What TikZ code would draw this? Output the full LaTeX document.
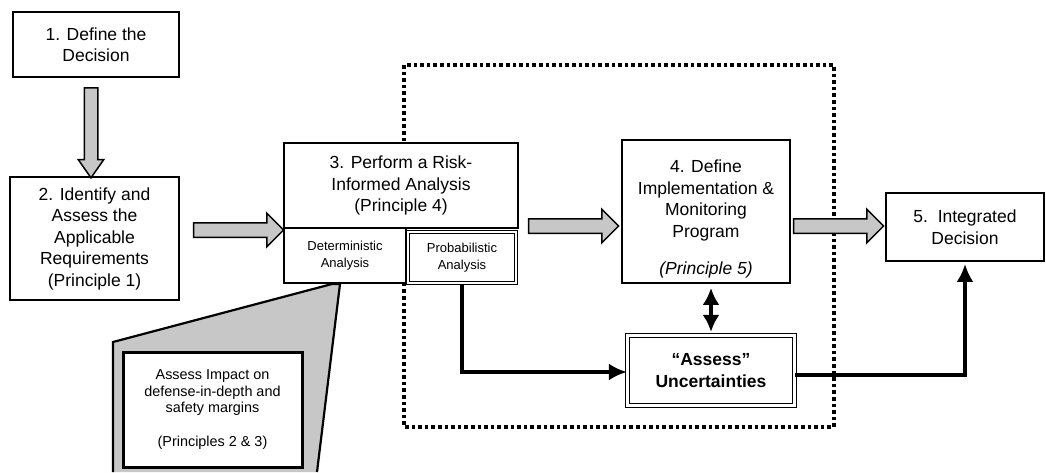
\documentclass[tikz,border=0pt]{standalone}
\usepackage{fontspec}
\setmainfont{Liberation Sans}
\usepackage{tikz}
\usetikzlibrary{shapes, arrows, arrows.meta, positioning}
\definecolor{stipple}{rgb}{0.78,0.78,0.78}
\tikzstyle{box}  = [draw, fill=white, line width=1.8pt, align=center, inner sep=0pt, font=\fontsize{17.5}{21.5}\selectfont]
\tikzstyle{cell} = [box, font=\fontsize{13}{17}\selectfont]
\tikzstyle{dbl}  = [double, double distance=2.5pt, line width=1.2pt]
\tikzstyle{fat}  = [draw, single arrow, fill=stipple, line width=1.5pt, inner xsep=0pt, inner ysep=6.5pt, single arrow head extend=9.5pt, minimum height=90pt]
\tikzstyle{flow} = [draw, line width=3.8pt, -{Latex[length=18pt, width=17pt]}]

\begin{document}
\begin{tikzpicture}[x=1pt, y=-1pt]
\useasboundingbox (0,0) rectangle (1046,472);

% dotted frame round steps 4 and uncertainties
\draw [line width=3.6pt, dash pattern=on 3.6pt off 3pt] (404,65) rectangle (834,427);

% callout
\fill [stipple] (113,342) -- (332,284) -- (340,284) -- (317,472) -- (113,472) -- cycle;
\draw [line width=2.2pt] (113,472) -- (113,342) -- (332,284) -- (340,284) -- (317,472);

% nodes
\node [box, minimum width=166pt, minimum height=65pt]  at ( 96  ,  44.5) (def)  {1. Define the\\Decision};
\node [box, minimum width=169pt, minimum height=123pt] at ( 94.5, 238.5) (req)  {2. Identify and\\Assess the\\Applicable\\Requirements\\(Principle 1)};
\node [box, minimum width=234pt, minimum height=85pt]  at (401  , 185.5) (risk) {3. Perform a Risk-\\Informed Analysis\\(Principle 4)};
\node [cell, minimum width=122pt, minimum height=55pt] at (345  , 255.5) (det)  {Deterministic\\Analysis};
\node [cell, dbl, minimum width=108pt, minimum height=51pt] at (462, 257.5) (prob) {Probabilistic\\Analysis};
\node [box, minimum width=168pt, minimum height=143pt] at (706  , 211.5) (plan) {\rule{0pt}{28pt}4. Define\\Implementation \&\\Monitoring\\Program\\[16pt]\textit{(Principle 5)}};
\node [box, minimum width=158pt, minimum height=68pt]  at (965  , 227  ) (dec)  {5.\ \ Integrated\\Decision};
\node [box, dbl, minimum width=167pt, minimum height=70pt, font=\fontsize{17.5}{21.5}\selectfont\bfseries] at (711, 370.5) (unc) {“Assess”\\Uncertainties};
\node [box, line width=3pt, minimum width=179pt, minimum height=115pt, font=\fontsize{14.4}{16.7}\selectfont] at (212.5, 409.5) (impact) {Assess Impact on\\defense-in-depth and\\safety margins\\[16.7pt](Principles 2 \& 3)};

% block arrows
\node [fat, rotate=-90, inner ysep=6pt, single arrow head extend=6pt, single arrow tip angle=70] at ( 91, 128) (arrD) {};
\node [fat] at (235, 230) (arrA) {};
\node [fat] at (570, 226) (arrB) {};
\node [fat] at (835, 226) (arrC) {};

% edges
\draw [flow] (prob.south) |- ([yshift=-1.5pt]unc.west);
\draw [flow, shorten >=2pt] ([yshift=-4.5pt]unc.east) -| (dec.south);
\draw [flow, {Latex[length=17pt, width=17pt]}-{Latex[length=17pt, width=17pt]}, shorten <=4pt, shorten >=3pt] (unc.north |- plan.south) -- (unc.north);

\end{tikzpicture}
\end{document}
